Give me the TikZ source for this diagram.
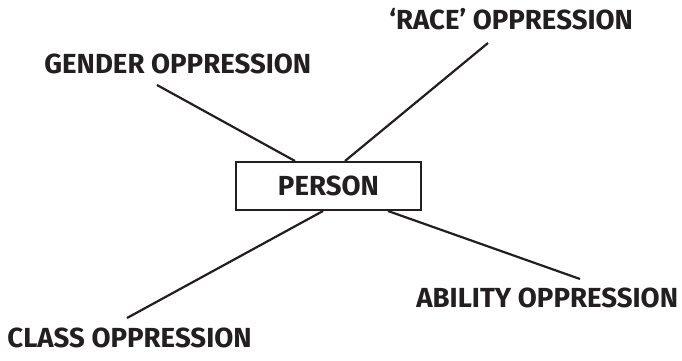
\documentclass[tikz,border=0pt]{standalone}
\usepackage{fontspec}
\setmainfont{Fira Sans}
\usepackage{xcolor}
\usepackage{tikz}
\usetikzlibrary{positioning}

\definecolor{ink}{HTML}{231F20}

\begin{document}
\begin{tikzpicture}[
    x=0.5pt, y=-0.5pt,
    oppr/.style={anchor=base west, inner sep=0pt, text=ink, font=\fontsize{13.8}{16}\selectfont\bfseries},
    personbox/.style={draw=ink, line width=1pt, minimum width=92.5pt, minimum height=24pt, inner sep=0pt, text=ink, font=\fontsize{13.8}{16}\selectfont\bfseries},
    link/.style={draw=ink, line width=1.1pt}
  ]
    \useasboundingbox (0,0) rectangle (682,360);

    \node[personbox] (person) at (328.5,186) {PERSON};
    \node[oppr] (race) at (389,29) {‘RACE’ OPPRESSION};
    \node[oppr] (gender) at (44,73) {GENDER OPPRESSION};
    \node[oppr] (ability) at (416,307) {ABILITY OPPRESSION};
    \node[oppr] (class) at (7,347) {CLASS OPPRESSION};

    \coordinate (raceend) at (488,43);
    \coordinate (genderend) at (157,85);
    \coordinate (abilityend) at (580,279);
    \coordinate (classend) at (127,318);

    \draw[link] (genderend) -- ([xshift=-16.75pt]person.north);
    \draw[link] (raceend) -- ([xshift=8.25pt]person.north);
    \draw[link] (classend) -- ([xshift=-2.75pt]person.south);
    \draw[link] (abilityend) -- ([xshift=29.75pt]person.south);
  \end{tikzpicture}
\end{document}
